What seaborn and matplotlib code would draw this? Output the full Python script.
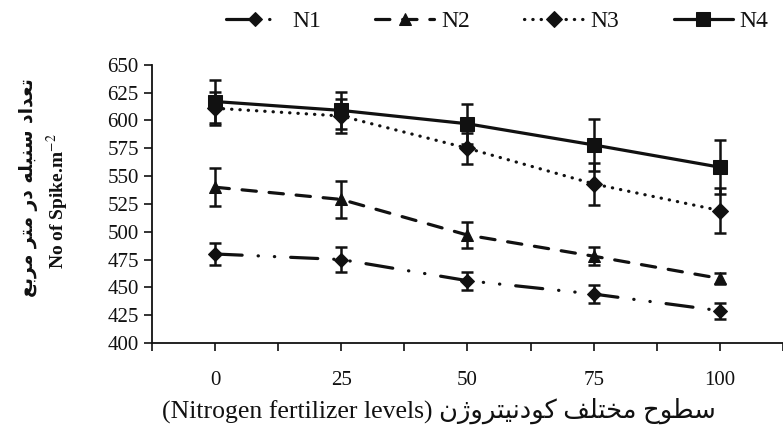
import numpy as np
import pandas as pd
import matplotlib
matplotlib.use("Agg")
import matplotlib.pyplot as plt
import seaborn as sns

# ---- data ----
levels = ["0", "25", "50", "75", "100"]
series = ["N1", "N2", "N3", "N4"]
n1 = [480, 475, 456, 444, 429]
n2 = [540, 529, 497, 478, 458]
n3 = [611, 604, 575, 543, 519]
n4 = [617, 609, 597, 578, 558]
n1_err = [10, 11, 8, 8, 7]
n2_err = [17, 17, 12, 8, 5]
n3_err = [15, 15, 14, 19, 20]
n4_err = [19, 17, 18, 23, 24]
yticks = [400, 425, 450, 475, 500, 525, 550, 575, 600, 625, 650]

values = {"N1": n1, "N2": n2, "N3": n3, "N4": n4}
errors = {"N1": n1_err, "N2": n2_err, "N3": n3_err, "N4": n4_err}

rows = []
for s in series:
    for i, lv in enumerate(levels):
        rows.append({"series": s, "pos": i, "level": lv,
                     "value": values[s][i], "err": errors[s][i]})
df = pd.DataFrame(rows)

sns.set_theme(style="ticks")
plt.rcParams["font.family"] = ["Liberation Serif", "DejaVu Sans"]
plt.rcParams["mathtext.fontset"] = "stix"

fig = plt.figure(figsize=(7.83, 4.32), dpi=100)
ax = fig.add_axes([0.194, 0.206, 0.806, 0.644])

ink = "#111111"
styles = {
    "N1": dict(marker="D", ms=7, dashes=(0, (8.5, 5, 0.1, 5, 0.1, 5))),
    "N2": dict(marker="^", ms=8, dashes=(0, (4.5, 4))),
    "N3": dict(marker="D", ms=8, dashes=(0, (0.1, 2.5))),
    "N4": dict(marker="s", ms=10, dashes="-"),
}

for s in series:
    sub = df[df["series"] == s]
    st = styles[s]
    ax.errorbar(sub["pos"], sub["value"], yerr=sub["err"], fmt="none",
                ecolor=ink, elinewidth=1.8, capsize=4.5, capthick=1.8, zorder=2)
    sns.lineplot(data=sub, x="pos", y="value", ax=ax, color=ink,
                 marker=st["marker"], markersize=st["ms"], markeredgecolor=ink,
                 markerfacecolor=ink, linewidth=2.3, label=s, zorder=3)
    ln = ax.lines[-1]
    ln.set_linestyle(st["dashes"])
    ln.set_dash_capstyle("round")

ax.set_xlim(-0.5, 4.47)
ax.set_ylim(400, 650)
ax.set_xticks(range(len(levels)))
ax.set_xticklabels(levels)
ax.set_xticks(np.arange(-0.5, 4.6, 1.0), minor=True)
ax.set_yticks(yticks)
ax.tick_params(axis="both", which="both", direction="out", color=ink,
               width=1.2, labelsize=15, labelcolor=ink)
ax.tick_params(axis="both", which="major", length=6)
ax.tick_params(axis="x", which="minor", length=6)
ax.tick_params(axis="x", which="major", pad=14)
ax.set_xlabel("")
ax.set_ylabel("")
sns.despine(ax=ax)
for sp in ["left", "bottom"]:
    ax.spines[sp].set_color(ink)
    ax.spines[sp].set_linewidth(1.3)

# legend on top
leg = ax.legend(loc="center", bbox_to_anchor=(0.635, 0.95),
                bbox_transform=fig.transFigure, ncol=4, frameon=False,
                fontsize=17, handlelength=2.5, columnspacing=2.3,
                handletextpad=0.3)
for t in leg.get_texts():
    t.set_color(ink)

# x label (Persian in visual order with presentation forms)
fa_x = ("\uFEE5\uFB8A\uFEED\uFEAE\uFE98\uFBFF\uFEE7\uFEA9\uFEEE\uFB90 "
        "\uFED2\uFEE0\uFE98\uFEA8\uFEE3 \uFEA1\uFEEE\uFEC4\uFEB3")
fig.text(0.561, 0.05, "(Nitrogen fertilizer levels) " + fa_x,
         ha="center", va="center", fontsize=18.5, color=ink,
         family=["Liberation Serif", "DejaVu Sans"])

# y labels
fa_y = ("\uFECA\uFE91\uFEAE\uFEE3 \uFEAE\uFE98\uFEE3 \uFEAD\uFEA9 "
        "\uFEEA\uFEE0\uFE92\uFEE8\uFEB3 \uFEA9\uFE8D\uFEAA\uFECC\uFE97")
fig.text(0.036, 0.565, fa_y, rotation=90, ha="center", va="center",
         fontsize=13.5, fontweight="bold", color=ink,
         family=["DejaVu Sans"])
fig.text(0.074, 0.535, r"No of Spike.m$^{-2}$", rotation=90,
         ha="center", va="center", fontsize=14, fontweight="bold",
         color=ink)

fig.savefig("out.png", dpi=100, facecolor="white")
